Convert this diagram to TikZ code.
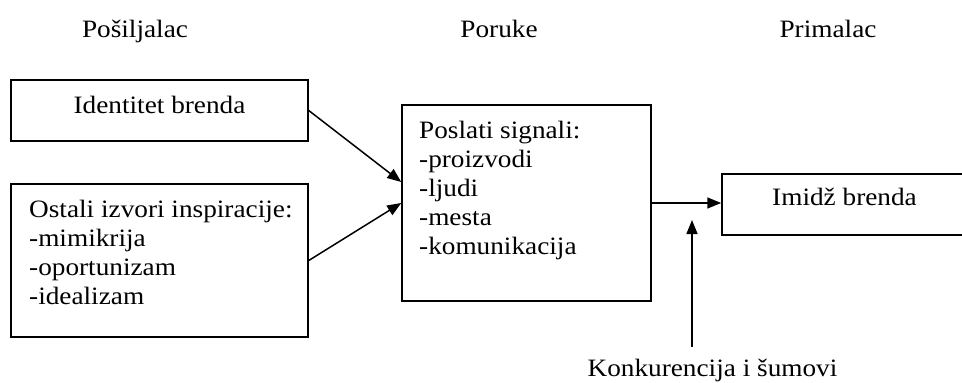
\documentclass[tikz,border=0pt]{standalone}
\usepackage{fontspec}
\setmainfont{Liberation Serif}[FakeStretch=1.09]
\usetikzlibrary{arrows.meta}

\begin{document}
\begin{tikzpicture}[x=1pt,y=-1pt,font=\fontsize{25}{29}\selectfont,
    box/.style={draw,line width=1.5pt,inner sep=0pt},
    txt/.style={inner sep=0pt},
    arr/.style={line width=1.5pt,-{Triangle[length=14pt,width=11pt]}}]
    \useasboundingbox (0,0) rectangle (962,383);
    \clip (0,0) rectangle (962,383);

    % headings
    \node[txt,anchor=base] (posiljalac) at (135,37) {Pošiljalac};
    \node[txt,anchor=base] (poruke) at (499,37) {Poruke};
    \node[txt,anchor=base] (primalac) at (828,37) {Primalac};

    % boxes
    \node[box,minimum width=297pt,minimum height=61pt] (identitet) at (159.5,110.5) {};
    \node[box,minimum width=297pt,minimum height=153pt] (ostali) at (159.5,260.5) {};
    \node[box,minimum width=249pt,minimum height=196pt] (signali) at (526.5,203) {};
    \node[box,minimum width=245pt,minimum height=61pt] (imidz) at (844.5,204.5) {};

    % box texts
    \node[txt,anchor=base] (identitet-t) at (159.5,113) {Identitet brenda};
    \node[txt,anchor=base] (imidz-t) at (844.5,205) {Imidž brenda};
    \foreach \t [count=\i] in {Ostali izvori inspiracije:,-mimikrija,-oportunizam,-idealizam}
      \node[txt,anchor=base west] (ostali-\i) at (29,188+29*\i) {\t};
    \foreach \t [count=\i] in {Poslati signali:,-proizvodi,-ljudi,-mesta,-komunikacija}
      \node[txt,anchor=base west] (signali-\i) at (419,109+29*\i) {\t};

    % noise
    \node[txt,anchor=base] (konkurencija) at (712.5,376.5) {Konkurencija i šumovi};
    \coordinate (sum) at (692,347);
    \coordinate (sum-tip) at (692,220);

    % connectors
    \draw[arr] (identitet.east) -- ([yshift=21pt]signali.west);
    \draw[arr] (ostali.east) -- (signali.west);
    \draw[arr] (signali.east) -- (signali.east -| imidz.west);
    \draw[arr] (sum) -- (sum-tip);
\end{tikzpicture}
\end{document}
